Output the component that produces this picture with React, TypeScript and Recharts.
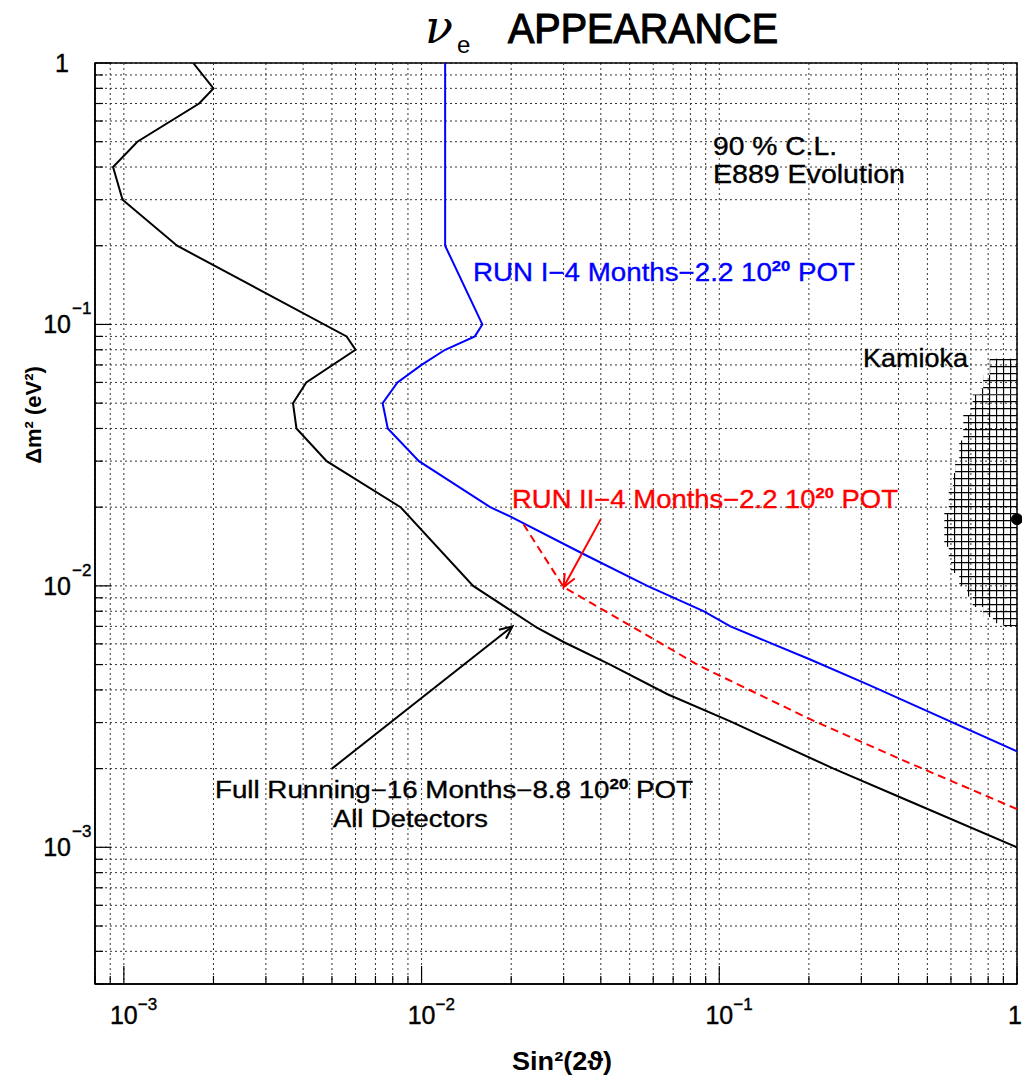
import React from "react";
import {
  ComposedChart,
  Line,
  XAxis,
  YAxis,
  CartesianGrid,
  ReferenceArea,
  ReferenceDot,
  ReferenceLine,
} from "recharts";

// ---------------------------------------------------------------------------
// Data
// ---------------------------------------------------------------------------

const X_DOMAIN: [number, number] = [8e-4, 1];
const Y_DOMAIN: [number, number] = [3e-4, 1];

// Full running - 16 months - 8.8e20 POT, all detectors (black)
const fullRunX = [
  0.00171, 0.002, 0.00179, 0.00111, 0.00092, 0.00099, 0.00151, 0.0056, 0.006, 0.0041, 0.0037,
  0.0038, 0.0048, 0.0085, 0.0149, 0.0245, 0.03, 0.043, 0.067, 0.109, 0.242, 0.407, 1.0,
];
const fullRunY = [
  1.0, 0.8, 0.7, 0.5, 0.4, 0.3, 0.2, 0.09, 0.08, 0.06, 0.05, 0.04, 0.03, 0.02, 0.01, 0.0069,
  0.0061, 0.005, 0.00385, 0.00303, 0.002, 0.00155, 0.001,
];

// RUN I - 4 months - 2.2e20 POT (blue)
const runIX = [
  0.012, 0.012, 0.016, 0.0151, 0.012, 0.01, 0.0083, 0.0074, 0.0077, 0.0098, 0.017, 0.0199,
  0.0347, 0.0573, 0.0885, 0.109, 0.202, 0.315, 1.0,
];
const runIY = [
  1.0, 0.2, 0.1, 0.09, 0.08, 0.07, 0.06, 0.05, 0.04, 0.03, 0.02, 0.0184, 0.0133, 0.01, 0.008,
  0.007, 0.00523, 0.0042, 0.00233,
];

// RUN II - 4 months - 2.2e20 POT (red dashed)
const runIIX = [0.022, 0.03, 0.0865, 0.202, 0.407, 1.0];
const runIIY = [0.0172, 0.0099, 0.00492, 0.00309, 0.00217, 0.0014];

// Kamioka allowed region: band edges in dm2 (top -> bottom) and left sin2 edge per band
const kamiokaEdges = [
  0.074, 0.064, 0.057, 0.054, 0.049, 0.045, 0.036, 0.03, 0.027, 0.024, 0.019, 0.0141, 0.0126,
  0.0112, 0.01, 0.0091, 0.0083, 0.0076, 0.0072, 0.007,
];
const kamiokaLeft = [
  0.81, 0.77, 0.75, 0.71, 0.7, 0.66, 0.64, 0.62, 0.61, 0.59, 0.57, 0.59, 0.6, 0.64, 0.68, 0.71,
  0.77, 0.83, 0.9,
];
const kamiokaBest = { x: 1.0, y: 0.018 };

// Annotation arrows [start, tip]
const fullRunArrow = [
  { x: 0.005, y: 0.002 },
  { x: 0.0202, y: 0.007 },
];
const runIIArrow = [
  { x: 0.04, y: 0.018 },
  { x: 0.03, y: 0.0099 },
];

// Axis ticks
const X_TICKS = [
  8e-4, 9e-4, 0.001, 0.002, 0.003, 0.004, 0.005, 0.006, 0.007, 0.008, 0.009, 0.01, 0.02, 0.03,
  0.04, 0.05, 0.06, 0.07, 0.08, 0.09, 0.1, 0.2, 0.3, 0.4, 0.5, 0.6, 0.7, 0.8, 0.9, 1,
];
const Y_TICKS = [
  3e-4, 4e-4, 5e-4, 6e-4, 7e-4, 8e-4, 9e-4, 0.001, 0.002, 0.003, 0.004, 0.005, 0.006, 0.007,
  0.008, 0.009, 0.01, 0.02, 0.03, 0.04, 0.05, 0.06, 0.07, 0.08, 0.09, 0.1, 0.2, 0.3, 0.4, 0.5,
  0.6, 0.7, 0.8, 0.9, 1,
];
const X_DECADES = [0.001, 0.01, 0.1, 1];
const X_EXPONENTS = ["−3", "−2", "−1", ""];
const Y_DECADES = [0.001, 0.01, 0.1, 1];
const Y_EXPONENTS = ["−3", "−2", "−1", ""];

const toPts = (xs: number[], ys: number[]) => xs.map((x, i) => ({ x, y: ys[i] }));

const FONT = "'Liberation Sans', Arial, sans-serif";

// ---------------------------------------------------------------------------
// Ticks (drawn inward, HIGZ style)
// ---------------------------------------------------------------------------

function XTick(props: any) {
  const { x, y, payload } = props;
  const i = X_DECADES.indexOf(payload.value);
  const major = i >= 0;
  return (
    <g>
      <line x1={x} x2={x} y1={y} y2={y - (major ? 18 : 8)} stroke="#000" strokeWidth={1.2} />
      {major && X_EXPONENTS[i] === "" && (
        <text x={1022} y={y + 40} textAnchor="end" fontFamily={FONT} fontSize={25} stroke="#000" strokeWidth={0.4}>
          1
        </text>
      )}
      {major && X_EXPONENTS[i] !== "" && (
        <g fontFamily={FONT} stroke="#000" strokeWidth={0.4}>
          <text x={x} y={y + 40} textAnchor="middle" fontSize={25}>
            10
          </text>
          <text x={x + 14} y={y + 26} fontSize={17}>
            {X_EXPONENTS[i]}
          </text>
        </g>
      )}
    </g>
  );
}

function YTick(props: any) {
  const { x, y, payload } = props;
  const i = Y_DECADES.indexOf(payload.value);
  const major = i >= 0;
  return (
    <g>
      <line x1={x} x2={x + (major ? 16 : 8)} y1={y} y2={y} stroke="#000" strokeWidth={1.2} />
      {major && Y_EXPONENTS[i] === "" && (
        <text x={x - 26} y={y + 9} textAnchor="end" fontFamily={FONT} fontSize={25} stroke="#000" strokeWidth={0.4}>
          1
        </text>
      )}
      {major && Y_EXPONENTS[i] !== "" && (
        <g fontFamily={FONT} stroke="#000" strokeWidth={0.4}>
          <text x={x - 24} y={y + 9} textAnchor="end" fontSize={25}>
            10
          </text>
          <text x={x - 23} y={y - 10} fontSize={17}>
            {Y_EXPONENTS[i]}
          </text>
        </g>
      )}
    </g>
  );
}

function arrowShape(color: string) {
  return (p: any) => {
    const { x1, y1, x2, y2 } = p;
    const a = Math.atan2(y2 - y1, x2 - x1);
    const L = 14;
    const s = 0.42;
    const ax = x2 - L * Math.cos(a - s);
    const ay = y2 - L * Math.sin(a - s);
    const bx = x2 - L * Math.cos(a + s);
    const by = y2 - L * Math.sin(a + s);
    return (
      <g>
        <line x1={x1} y1={y1} x2={x2} y2={y2} stroke={color} strokeWidth={2} />
        <polyline
          points={`${ax},${ay} ${x2},${y2} ${bx},${by}`}
          fill="none"
          stroke={color}
          strokeWidth={2}
        />
      </g>
    );
  };
}

// ---------------------------------------------------------------------------
// Component
// ---------------------------------------------------------------------------

export default function App() {
  return (
    <div style={{ position: "fixed", left: 0, top: 0, width: 1022, height: 1076, background: "#fff" }}>
      <svg width={0} height={0} style={{ position: "absolute" }}>
        <defs>
          <pattern id="kamHatch" patternUnits="userSpaceOnUse" x={2} y={2} width={7} height={7}>
            <path d="M0.5 0 V7 M0 0.5 H7" stroke="#000" strokeWidth={1.3} />
          </pattern>
        </defs>
      </svg>

      <ComposedChart width={1022} height={1076} margin={{ top: 63, right: 5, bottom: 0, left: 0 }}>
        <CartesianGrid stroke="#333" strokeDasharray="2 3" strokeWidth={1} />
        <XAxis
          type="number"
          dataKey="x"
          scale="log"
          domain={X_DOMAIN}
          allowDataOverflow
          ticks={X_TICKS}
          interval={0}
          height={92}
          tickLine={false}
          tickSize={0}
          tickMargin={0}
          axisLine={{ stroke: "#000", strokeWidth: 1.5 }}
          tick={<XTick />}
        />
        <YAxis
          type="number"
          dataKey="y"
          scale="log"
          domain={Y_DOMAIN}
          allowDataOverflow
          ticks={Y_TICKS}
          interval={0}
          width={95}
          tickLine={false}
          tickSize={0}
          tickMargin={0}
          axisLine={{ stroke: "#000", strokeWidth: 1.5 }}
          tick={<YTick />}
        />

        {kamiokaLeft.map((xl, i) => (
          <ReferenceArea
            key={i}
            x1={xl}
            x2={1}
            y1={kamiokaEdges[i + 1]}
            y2={kamiokaEdges[i]}
            fill="url(#kamHatch)"
            fillOpacity={1}
            stroke="none"
          />
        ))}

        <Line
          data={toPts(fullRunX, fullRunY)}
          dataKey="y"
          stroke="#000"
          strokeWidth={2}
          dot={false}
          isAnimationActive={false}
        />
        <Line
          data={toPts(runIX, runIY)}
          dataKey="y"
          stroke="#0000ff"
          strokeWidth={2}
          dot={false}
          isAnimationActive={false}
        />
        <Line
          data={toPts(runIIX, runIIY)}
          dataKey="y"
          stroke="#ff0000"
          strokeWidth={2}
          strokeDasharray="8 5"
          dot={false}
          isAnimationActive={false}
        />

        <ReferenceDot
          x={kamiokaBest.x}
          y={kamiokaBest.y}
          r={5.5}
          fill="#000"
          stroke="#000"
          ifOverflow="visible"
        />

        <ReferenceLine segment={fullRunArrow} ifOverflow="visible" shape={arrowShape("#000")} />
        <ReferenceLine segment={runIIArrow} ifOverflow="visible" shape={arrowShape("#ff0000")} />

        <ReferenceArea
          x1={X_DOMAIN[0]}
          x2={X_DOMAIN[1]}
          y1={Y_DOMAIN[0]}
          y2={Y_DOMAIN[1]}
          fill="none"
          stroke="#000"
          strokeWidth={1.5}
        />
      </ComposedChart>

      <svg
        width={1022}
        height={1076}
        style={{ position: "absolute", left: 0, top: 0, pointerEvents: "none" }}
        fontFamily={FONT}
      >
        <text x={425} y={43} fontFamily="'DejaVu Serif', serif" fontStyle="italic" fontSize={46}>
          ν
        </text>
        <text x={457} y={53} fontSize={24}>
          e
        </text>
        <text
          x={508}
          y={43}
          fontSize={42}
          textLength={270}
          lengthAdjust="spacingAndGlyphs"
          stroke="#000"
          strokeWidth={1.2}
        >
          APPEARANCE
        </text>

        <g stroke="#000" strokeWidth={0.35}>
          <text x={713} y={155} fontSize={25} textLength={124} lengthAdjust="spacingAndGlyphs">
            90 % C.L.
          </text>
          <text x={713} y={183} fontSize={25} textLength={192} lengthAdjust="spacingAndGlyphs">
            E889 Evolution
          </text>
          <text x={863} y={367} fontSize={25} textLength={105} lengthAdjust="spacingAndGlyphs">
            Kamioka
          </text>
          <text x={215} y={798} fontSize={23} textLength={478} lengthAdjust="spacingAndGlyphs">
            Full Running−16 Months−8.8 10
            <tspan dy={-9} fontSize={14} fontWeight="bold">
              20
            </tspan>
            <tspan dy={9}> POT</tspan>
          </text>
          <text x={333} y={827} fontSize={23} textLength={155} lengthAdjust="spacingAndGlyphs">
            All Detectors
          </text>
        </g>

        <text
          x={473}
          y={281}
          fontSize={25}
          fill="#0000ff"
          stroke="#0000ff"
          strokeWidth={0.35}
          textLength={382}
          lengthAdjust="spacingAndGlyphs"
        >
          RUN I−4 Months−2.2 10
          <tspan dy={-10} fontSize={15} fontWeight="bold">
            20
          </tspan>
          <tspan dy={10}> POT</tspan>
        </text>

        <text
          x={512}
          y={508}
          fontSize={25}
          fill="#ff0000"
          stroke="#ff0000"
          strokeWidth={0.35}
          textLength={386}
          lengthAdjust="spacingAndGlyphs"
        >
          RUN II−4 Months−2.2 10
          <tspan dy={-10} fontSize={15} fontWeight="bold">
            20
          </tspan>
          <tspan dy={10}> POT</tspan>
        </text>

        <text
          x={41}
          y={415}
          fontSize={22}
          fontWeight="bold"
          textAnchor="middle"
          transform="rotate(-90 41 415)"
        >
          Δm² (eV²)
        </text>
        <text x={512} y={1070} fontSize={26} fontWeight="bold" textLength={100} lengthAdjust="spacingAndGlyphs">
          Sin²(2ϑ)
        </text>
      </svg>
    </div>
  );
}
